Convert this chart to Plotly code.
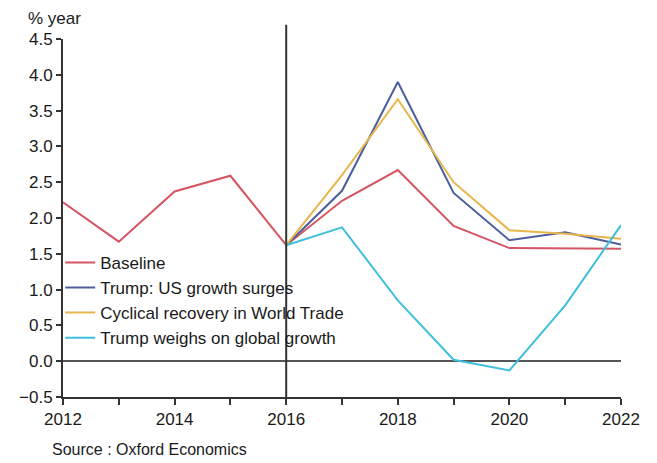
import plotly.graph_objects as go

# Annual world GDP growth, % year
years = [2012, 2013, 2014, 2015, 2016, 2017, 2018, 2019, 2020, 2021, 2022]
forecast_years = [2016, 2017, 2018, 2019, 2020, 2021, 2022]

baseline = [2.22, 1.67, 2.37, 2.59, 1.62, 2.24, 2.67, 1.89, 1.58, 1.58, 1.57]
trump_us_surge = [1.62, 2.38, 3.90, 2.35, 1.69, 1.80, 1.63]
cyclical_trade = [1.62, 2.60, 3.66, 2.50, 1.83, 1.78, 1.71]
trump_weighs = [1.62, 1.87, 0.85, 0.02, -0.13, 0.78, 1.90]

series_names = [
    "Baseline",
    "Trump: US growth surges",
    "Cyclical recovery in World Trade",
    "Trump weighs on global growth",
]
series_colors = ["#D65563", "#4C5E9B", "#E8B64C", "#3FBFDD"]

x_tick_vals = years
x_tick_text = ["2012", "", "2014", "", "2016", "", "2018", "", "2020", "", "2022"]
y_tick_vals = [-0.5, 0.0, 0.5, 1.0, 1.5, 2.0, 2.5, 3.0, 3.5, 4.0, 4.5]

font_family = "Liberation Sans, Arial, sans-serif"
text_color = "#1a1a1a"

fig = go.Figure()
for name, xs, ys, color in [
    (series_names[0], years, baseline, series_colors[0]),
    (series_names[1], forecast_years, trump_us_surge, series_colors[1]),
    (series_names[2], forecast_years, cyclical_trade, series_colors[2]),
    (series_names[3], forecast_years, trump_weighs, series_colors[3]),
]:
    fig.add_trace(go.Scatter(
        x=xs, y=ys, mode="lines", name=name,
        line=dict(color=color, width=2),
    ))

# forecast divider at 2016, rising slightly above the plot area
fig.add_shape(type="line", xref="x", yref="paper", x0=2016, x1=2016, y0=0, y1=1.04,
              line=dict(color="#333333", width=2), layer="above")

fig.add_annotation(text="% year", xref="paper", yref="paper", x=-0.066, y=1.025,
                   xanchor="left", yanchor="bottom", showarrow=False,
                   font=dict(family=font_family, size=17, color=text_color))
fig.add_annotation(text="Source : Oxford Economics", xref="paper", yref="paper",
                   x=-0.023, y=-0.147, xanchor="left", yanchor="middle", showarrow=False,
                   font=dict(family=font_family, size=16, color=text_color))

fig.update_layout(
    width=657, height=463,
    margin=dict(l=63, r=36, t=39, b=66),
    plot_bgcolor="white", paper_bgcolor="white",
    font=dict(family=font_family, size=17, color=text_color),
    showlegend=True,
    legend=dict(
        x=-0.005, y=0.425, xanchor="left", yanchor="top",
        bgcolor="rgba(0,0,0,0)", font=dict(size=17, color=text_color),
        itemwidth=30, tracegroupgap=0,
    ),
    xaxis=dict(
        range=[2012, 2022], tickvals=x_tick_vals, ticktext=x_tick_text,
        showgrid=False, zeroline=False, showline=True, linecolor="#333333", linewidth=2,
        ticks="outside", ticklen=6, tickwidth=2, tickcolor="#333333",
    ),
    yaxis=dict(
        range=[-0.5, 4.5], tickvals=y_tick_vals, tickformat=".1f",
        showgrid=False, zeroline=True, zerolinecolor="#555555", zerolinewidth=2,
        showline=True, linecolor="#333333", linewidth=2,
        ticks="outside", ticklen=5, tickwidth=2, tickcolor="#333333",
    ),
)

fig.write_html("out.html")
